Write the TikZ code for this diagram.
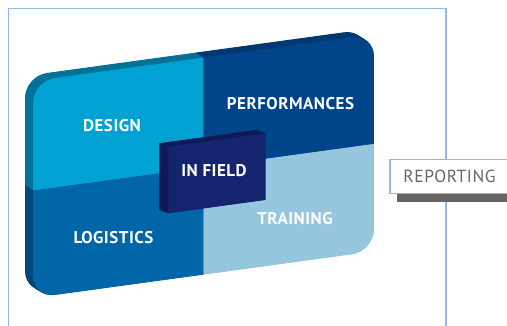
\documentclass[tikz,border=0pt]{standalone}
\usepackage{fontspec}
\newfontfamily\labfont[LetterSpace=3]{PT Sans}
\definecolor{cDesign}{HTML}{00A1D3}
\definecolor{cPerf}{HTML}{004489}
\definecolor{cLog}{HTML}{0066A7}
\definecolor{cTrain}{HTML}{96C6DD}
\definecolor{sDesign}{HTML}{007296}
\definecolor{sPerf}{HTML}{003872}
\definecolor{sLog}{HTML}{004878}
\definecolor{sTrain}{HTML}{6F9FB8}
\definecolor{inFront}{HTML}{15246F}
\definecolor{inSide}{HTML}{0E1957}
\definecolor{frameC}{HTML}{8EBBE5}
\definecolor{repText}{HTML}{666666}
\definecolor{repShadow}{HTML}{646567}
\newcommand\cardface[6]{%
  \begin{scope}
    \clip[rounded corners=22pt] (#1,#2) rectangle ++(341,217);
    \fill[#3] (#1,#2+107.3) rectangle ++(170.5,110);
    \fill[#4] (#1+170.5,#2+107.3) rectangle ++(171,110);
    \fill[#5] (#1,#2) rectangle ++(170.5,107.3);
    \fill[#6] (#1+170.5,#2) rectangle ++(171,107.3);
  \end{scope}}
\tikzset{
  quadlabel/.style={text=white, font=\labfont\bfseries\fontsize{17}{18}\selectfont, inner sep=0pt},
  replabel/.style={text=repText, font=\labfont\fontsize{17.5}{18}\selectfont, inner sep=0pt},
  framestyle/.style={draw=frameC, line width=1.5pt}
}
\begin{document}
\begin{tikzpicture}[x=1pt,y=1pt]
\useasboundingbox (0,0) rectangle (507,326);
\clip (0,0) rectangle (507,326);
% outer frame
\draw[framestyle] (8.5,-2) |- (446,317.5) -- (446,-2);
% card
\begin{scope}[shift={(33,28)}, yslant=0.137]
  \foreach \i in {16,...,1} {
    \pgfmathsetmacro\dx{-0.5*\i}
    \pgfmathsetmacro\dy{0.38*\i}
    \cardface{\dx}{\dy}{sDesign}{sPerf}{sLog}{sTrain}
  }
  \cardface{0}{0}{cDesign}{cPerf}{cLog}{cTrain}
  % in field block
  \foreach \i in {18,...,1} {
    \pgfmathsetmacro\dx{-0.5*\i}
    \pgfmathsetmacro\dy{0.256*\i}
    \fill[inSide] (135.3+\dx,66.2+\dy) rectangle ++(97.4,66.6);
  }
  \fill[inFront] (135.3,66.2) rectangle ++(97.4,66.6);
\end{scope}
% labels
\node[quadlabel] (design) at (112,200) {DESIGN};
\node[quadlabel] (perf) at (290.5,222) {PERFORMANCES};
\node[quadlabel] (infield) at (214,155) {IN FIELD};
\node[quadlabel] (logistics) at (113.5,88) {LOGISTICS};
\node[quadlabel] (training) at (295,107) {TRAINING};
% reporting
\fill[repShadow] (396.7,123.7) rectangle (510,131.7);
\draw[framestyle, fill=white] (390,132.7) rectangle (512,166.7);
\node[replabel] (reporting) at (449.5,150) {REPORTING};
\end{tikzpicture}
\end{document}
